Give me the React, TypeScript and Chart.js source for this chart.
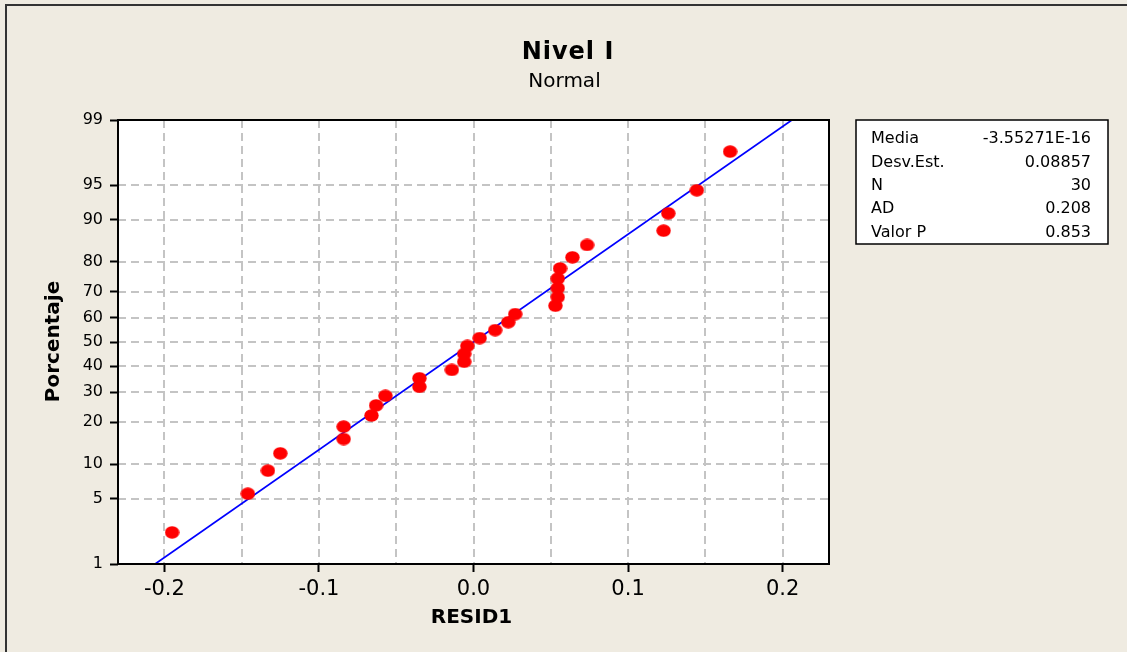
import React, { useEffect, useRef } from "react";
import { Chart, registerables } from "chart.js";

Chart.register(...registerables);

// ---- data ----
const chartTitle = "Nivel I";
const chartSubtitle = "Normal";
const xTitle = "RESID1";
const yTitle = "Porcentaje";

const resid = [
  -0.195, -0.146, -0.133, -0.125, -0.084, -0.084, -0.066, -0.063, -0.057, -0.035,
  -0.035, -0.014, -0.006, -0.006, -0.004, 0.004, 0.014, 0.0225, 0.027, 0.053,
  0.0545, 0.0545, 0.0545, 0.056, 0.064, 0.0735, 0.123, 0.126, 0.1445, 0.166,
];
const percent = [
  2.3, 5.59, 8.88, 12.17, 15.46, 18.75, 22.04, 25.33, 28.62, 31.91,
  35.2, 38.49, 41.78, 45.07, 48.36, 51.64, 54.93, 58.22, 61.51, 64.8,
  68.09, 71.38, 74.67, 77.96, 81.25, 84.54, 87.83, 91.12, 94.41, 97.7,
];

const fitResid = [-0.206, 0.206];
const fitPercent = [1, 99];

const xTickValues = [-0.2, -0.15, -0.1, -0.05, 0, 0.05, 0.1, 0.15, 0.2];
const xTickLabels = ["-0.2", "", "-0.1", "", "0.0", "", "0.1", "", "0.2"];
const yTickPercents = [1, 5, 10, 20, 30, 40, 50, 60, 70, 80, 90, 95, 99];
const yTickLabels = ["1", "5", "10", "20", "30", "40", "50", "60", "70", "80", "90", "95", "99"];

const statLabels = ["Media", "Desv.Est.", "N", "AD", "Valor P"];
const statValues = ["-3.55271E-16", "0.08857", "30", "0.208", "0.853"];

// ---- helpers ----
function probit(p: number): number {
  const a = [-3.969683028665376e1, 2.209460984245205e2, -2.759285104469687e2, 1.38357751867269e2, -3.066479806614716e1, 2.506628277459239];
  const b = [-5.447609879822406e1, 1.615858368580409e2, -1.556989798598866e2, 6.680131188771972e1, -1.328068155288572e1];
  const c = [-7.784894002430293e-3, -3.223964580411365e-1, -2.400758277161838, -2.549732539343734, 4.374664141464968, 2.938163982698783];
  const d = [7.784695709041462e-3, 3.224671290700398e-1, 2.445134137142996, 3.754408661907416];
  const plow = 0.02425;
  const phigh = 1 - plow;
  if (p < plow) {
    const q = Math.sqrt(-2 * Math.log(p));
    return (((((c[0] * q + c[1]) * q + c[2]) * q + c[3]) * q + c[4]) * q + c[5]) / ((((d[0] * q + d[1]) * q + d[2]) * q + d[3]) * q + 1);
  }
  if (p <= phigh) {
    const q = p - 0.5;
    const r = q * q;
    return ((((((a[0] * r + a[1]) * r + a[2]) * r + a[3]) * r + a[4]) * r + a[5]) * q) / (((((b[0] * r + b[1]) * r + b[2]) * r + b[3]) * r + b[4]) * r + 1);
  }
  const q = Math.sqrt(-2 * Math.log(1 - p));
  return -(((((c[0] * q + c[1]) * q + c[2]) * q + c[3]) * q + c[4]) * q + c[5]) / ((((d[0] * q + d[1]) * q + d[2]) * q + d[3]) * q + 1);
}

const FONT = '"DejaVu Sans", Verdana, sans-serif';
const BG = "#EFEBE1";

function makeDot(): HTMLCanvasElement {
  const c = document.createElement("canvas");
  c.width = 15;
  c.height = 13;
  const g = c.getContext("2d")!;
  g.fillStyle = "#FF0000";
  g.beginPath();
  g.ellipse(7.5, 6.5, 7.2, 6.2, 0, 0, Math.PI * 2);
  g.fill();
  return c;
}

const decorPlugin = {
  id: "decor",
  beforeDraw(chart: any) {
    const { ctx, chartArea: ca, scales } = chart;
    ctx.save();
    ctx.fillStyle = BG;
    ctx.fillRect(0, 0, chart.width, chart.height);
    // outer frame (top/left visible)
    ctx.strokeStyle = "#333333";
    ctx.lineWidth = 2;
    ctx.beginPath();
    ctx.moveTo(6, chart.height + 5);
    ctx.lineTo(6, 5);
    ctx.lineTo(chart.width + 5, 5);
    ctx.stroke();
    // plot area
    ctx.fillStyle = "#FFFFFF";
    ctx.fillRect(ca.left, ca.top, ca.right - ca.left, ca.bottom - ca.top);
    // dashed grid
    ctx.strokeStyle = "#C4C4C4";
    ctx.lineWidth = 2;
    ctx.setLineDash([8, 5]);
    for (const v of xTickValues) {
      const px = Math.round(scales.x.getPixelForValue(v));
      ctx.beginPath();
      ctx.moveTo(px, ca.top);
      ctx.lineTo(px, ca.bottom);
      ctx.stroke();
    }
    for (const p of yTickPercents) {
      const py = Math.round(scales.y.getPixelForValue(probit(p / 100)));
      ctx.beginPath();
      ctx.moveTo(ca.left, py);
      ctx.lineTo(ca.right, py);
      ctx.stroke();
    }
    ctx.restore();
  },
  afterDraw(chart: any) {
    const { ctx, chartArea: ca } = chart;
    ctx.save();
    // plot frame
    ctx.strokeStyle = "#000000";
    ctx.lineWidth = 2;
    ctx.strokeRect(ca.left, ca.top, ca.right - ca.left, ca.bottom - ca.top);

    ctx.fillStyle = "#000000";
    ctx.textAlign = "center";
    ctx.textBaseline = "alphabetic";
    // title
    ctx.font = `bold 24px ${FONT}`;
    (ctx as any).letterSpacing = "1px";
    ctx.fillText(chartTitle, 568, 59);
    (ctx as any).letterSpacing = "0px";
    ctx.font = `20px ${FONT}`;
    ctx.fillText(chartSubtitle, 564.5, 87);
    // axis titles
    ctx.font = `bold 20px ${FONT}`;
    ctx.fillText(xTitle, 471.5, 623);
    ctx.save();
    ctx.translate(59, 341.5);
    ctx.rotate(-Math.PI / 2);
    ctx.fillText(yTitle, 0, 0);
    ctx.restore();

    // stats table
    ctx.fillStyle = "#FFFFFF";
    ctx.fillRect(856, 120, 252, 124);
    ctx.strokeStyle = "#000000";
    ctx.lineWidth = 1.5;
    ctx.strokeRect(856, 120, 252, 124);
    ctx.fillStyle = "#000000";
    ctx.font = `16px ${FONT}`;
    statLabels.forEach((lab, i) => {
      const y = 143.3 + i * 23.35;
      ctx.textAlign = "left";
      ctx.fillText(lab, 871, y);
      ctx.textAlign = "right";
      ctx.fillText(statValues[i], 1091, y);
    });
    ctx.restore();
  },
};

export default function App() {
  const ref = useRef<HTMLCanvasElement | null>(null);

  useEffect(() => {
    if (!ref.current) return;
    const dot = makeDot();
    const points = resid.map((x, i) => ({ x, y: probit(percent[i] / 100) }));
    const fit = fitResid.map((x, i) => ({ x, y: probit(fitPercent[i] / 100) }));
    const yMin = probit(yTickPercents[0] / 100);
    const yMax = probit(yTickPercents[yTickPercents.length - 1] / 100);

    const chart = new Chart(ref.current, {
      type: "scatter",
      data: {
        datasets: [
          {
            label: "Residuos",
            data: points,
            pointStyle: dot as any,
            pointRadius: 7,
            showLine: false,
          },
          {
            label: "Ajuste",
            data: fit,
            showLine: true,
            borderColor: "#0000FF",
            borderWidth: 1.7,
            pointRadius: 0,
            fill: false,
          },
        ],
      },
      options: {
        responsive: false,
        animation: false,
        devicePixelRatio: 1,
        layout: { padding: { top: 120, right: 298, left: 0, bottom: 0 } },
        plugins: {
          legend: { display: false },
          title: { display: false },
          tooltip: { enabled: false },
        },
        scales: {
          x: {
            type: "linear",
            min: -0.23,
            max: 0.23,
            afterBuildTicks: (scale: any) => {
              scale.ticks = xTickValues.map((v) => ({ value: v }));
            },
            afterFit: (scale: any) => {
              scale.height = 88;
            },
            grid: {
              display: true,
              drawOnChartArea: false,
              drawTicks: true,
              tickLength: 8,
              tickWidth: 2,
              tickColor: (ctx: any) => (xTickLabels[ctx.index] ? "#000000" : "rgba(0,0,0,0)"),
            },
            border: { display: false },
            ticks: {
              autoSkip: false,
              maxRotation: 0,
              padding: 5,
              color: "#000000",
              font: { family: FONT, size: 21 },
              callback: (_v: any, i: number) => xTickLabels[i],
            },
          },
          y: {
            type: "linear",
            min: yMin,
            max: yMax,
            afterBuildTicks: (scale: any) => {
              scale.ticks = yTickPercents.map((p) => ({ value: probit(p / 100) }));
            },
            afterFit: (scale: any) => {
              scale.width = 118;
            },
            grid: {
              display: true,
              drawOnChartArea: false,
              drawTicks: true,
              tickLength: 8,
              tickWidth: 2,
              tickColor: "#000000",
            },
            border: { display: false },
            ticks: {
              autoSkip: false,
              padding: 7,
              color: "#000000",
              font: { family: FONT, size: 16 },
              callback: (_v: any, i: number) => yTickLabels[i],
            },
          },
        },
      },
      plugins: [decorPlugin],
    });
    return () => chart.destroy();
  }, []);

  return (
    <div style={{ position: "absolute", left: 0, top: 0, width: 1127, height: 652, background: BG }}>
      <canvas ref={ref} width={1127} height={652} style={{ display: "block", width: 1127, height: 652 }} />
    </div>
  );
}
